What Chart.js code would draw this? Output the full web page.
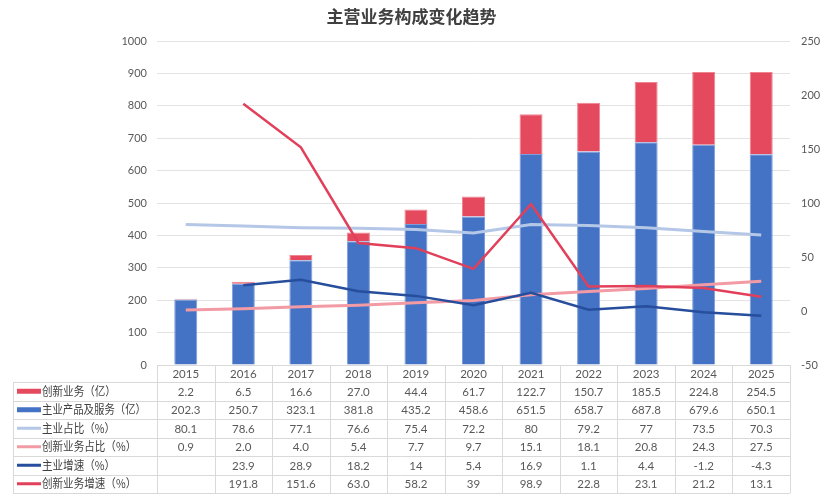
<!DOCTYPE html>
<html>
<head>
<meta charset="utf-8">
<script src="https://cdn.jsdelivr.net/npm/chart.js@4"></script>
<style>
  html, body { margin: 0; padding: 0; background: #fff; }
  #wrap { width: 823px; height: 500px; }
</style>
</head>
<body>
<div id="wrap"><canvas id="trendChart" width="823" height="500"></canvas></div>
<script>
// values as printed in the data table (blank = no value)
const years = ["2015", "2016", "2017", "2018", "2019", "2020", "2021", "2022", "2023", "2024", "2025"];
const innovRevenue = ["2.2", "6.5", "16.6", "27.0", "44.4", "61.7", "122.7", "150.7", "185.5", "224.8", "254.5"];
const mainRevenue  = ["202.3", "250.7", "323.1", "381.8", "435.2", "458.6", "651.5", "658.7", "687.8", "679.6", "650.1"];
const mainShare    = ["80.1", "78.6", "77.1", "76.6", "75.4", "72.2", "80", "79.2", "77", "73.5", "70.3"];
const innovShare   = ["0.9", "2.0", "4.0", "5.4", "7.7", "9.7", "15.1", "18.1", "20.8", "24.3", "27.5"];
const mainGrowth   = ["", "23.9", "28.9", "18.2", "14", "5.4", "16.9", "1.1", "4.4", "-1.2", "-4.3"];
const innovGrowth  = ["", "191.8", "151.6", "63.0", "58.2", "39", "98.9", "22.8", "23.1", "21.2", "13.1"];

const leftTicks  = [0, 100, 200, 300, 400, 500, 600, 700, 800, 900, 1000];
const rightTicks = [-50, 0, 50, 100, 150, 200, 250];

const toNum = s => (s === "" ? null : Number(s));

const CJK = '"Noto Sans CJK SC", sans-serif';
const NUM = 'Lato, "Noto Sans CJK SC", sans-serif';

// table rows, in the order shown under the chart
const tableRows = [
    { label: "创新业务（亿）",     cells: innovRevenue, color: "#E5495E", thick: 5 },
    { label: "主业产品及服务（亿）", cells: mainRevenue,  color: "#4472C4", thick: 5 },
    { label: "主业占比（%）",       cells: mainShare,    color: "#B4C7E7", thick: 3 },
    { label: "创新业务占比（%）",   cells: innovShare,   color: "#F29BA5", thick: 3 },
    { label: "主业增速（%）",       cells: mainGrowth,   color: "#264E9C", thick: 3 },
    { label: "创新业务增速（%）",   cells: innovGrowth,  color: "#E2405A", thick: 3 }
];

// title + data table drawn under the plot
const tablePlugin = {
    id: "dataTable",
    afterDraw(chart) {
        const ctx = chart.ctx;
        const area = chart.chartArea;
        const xs = chart.scales.x;
        const colW = (area.right - area.left) / years.length;

        ctx.save();
        // title
        ctx.fillStyle = "#404040";
        ctx.font = "bold 17px " + CJK;
        ctx.textAlign = "center";
        ctx.textBaseline = "middle";
        ctx.fillText("主营业务构成变化趋势", chart.width / 2, 17);

        const rowEdges = [area.bottom, 382, 400.5, 419, 437.5, 456, 474.5, 493];
        const tableLeft = 13;

        // grid
        ctx.strokeStyle = "#D9D9D9";
        ctx.lineWidth = 1;
        ctx.beginPath();
        rowEdges.forEach((y, i) => {
            const x0 = i === 0 ? area.left : tableLeft;
            ctx.moveTo(x0, Math.round(y) + 0.5);
            ctx.lineTo(area.right, Math.round(y) + 0.5);
        });
        for (let i = 0; i <= years.length; i++) {
            const x = Math.round(area.left + i * colW) + 0.5;
            ctx.moveTo(x, rowEdges[0]);
            ctx.lineTo(x, rowEdges[rowEdges.length - 1]);
        }
        ctx.moveTo(tableLeft + 0.5, rowEdges[1]);
        ctx.lineTo(tableLeft + 0.5, rowEdges[rowEdges.length - 1]);
        ctx.stroke();

        // year header
        ctx.fillStyle = "#595959";
        ctx.font = "11.5px " + NUM;
        years.forEach((yr, i) => {
            ctx.fillText(yr, xs.getPixelForValue(i), (rowEdges[0] + rowEdges[1]) / 2 + 1);
        });

        // rows
        tableRows.forEach((row, r) => {
            const yMid = (rowEdges[r + 1] + rowEdges[r + 2]) / 2;
            ctx.fillStyle = row.color;
            ctx.fillRect(17, yMid - row.thick / 2, 24, row.thick);

            ctx.fillStyle = "#404040";
            ctx.font = "12px " + CJK;
            ctx.textAlign = "left";
            const w = ctx.measureText(row.label).width;
            ctx.fillText(row.label, 42, yMid, Math.min(w * 0.88, 104));

            ctx.fillStyle = "#595959";
            ctx.font = "11.5px " + NUM;
            ctx.textAlign = "center";
            row.cells.forEach((v, i) => {
                if (v !== "") ctx.fillText(v, xs.getPixelForValue(i), yMid + 1);
            });
        });
        ctx.restore();
    }
};

const lineDefaults = { type: "line", yAxisID: "y1", pointRadius: 0, pointHoverRadius: 0, tension: 0, borderWidth: 2.5, fill: false };

new Chart(document.getElementById("trendChart"), {
    type: "bar",
    data: {
        labels: years,
        datasets: [
            {
                label: "主业产品及服务（亿）",
                data: mainRevenue.map(toNum),
                backgroundColor: "#4472C4",
                borderColor: "#7E9DDB",
                borderWidth: 1,
                stack: "rev",
                order: 10
            },
            {
                label: "创新业务（亿）",
                data: innovRevenue.map(toNum),
                backgroundColor: "#E5495E",
                borderColor: "#F08592",
                borderWidth: 1,
                stack: "rev",
                order: 11
            },
            Object.assign({}, lineDefaults, { label: "主业占比（%）", data: mainShare.map(toNum), borderColor: "#B4C7E7", borderWidth: 3, order: 4 }),
            Object.assign({}, lineDefaults, { label: "创新业务占比（%）", data: innovShare.map(toNum), borderColor: "#F29BA5", borderWidth: 3, order: 3 }),
            Object.assign({}, lineDefaults, { label: "主业增速（%）", data: mainGrowth.map(toNum), borderColor: "#264E9C", order: 2 }),
            Object.assign({}, lineDefaults, { label: "创新业务增速（%）", data: innovGrowth.map(toNum), borderColor: "#E2405A", order: 1 })
        ]
    },
    options: {
        responsive: false,
        animation: false,
        layout: { padding: { top: 41, bottom: 135, left: 0, right: 0 } },
        datasets: { bar: { barPercentage: 0.4, categoryPercentage: 1 } },
        plugins: {
            legend: { display: false },
            title: { display: false },
            tooltip: { enabled: false }
        },
        scales: {
            x: { display: false, stacked: true, offset: true },
            y: {
                position: "left",
                stacked: true,
                min: leftTicks[0],
                max: leftTicks[leftTicks.length - 1],
                afterBuildTicks: s => { s.ticks = leftTicks.map(v => ({ value: v })); },
                afterFit: s => { s.width = 157; },
                border: { display: false },
                grid: { color: "#E3E3E3", drawTicks: false },
                ticks: { color: "#595959", padding: 10, font: { family: NUM, size: 11 }, callback: v => String(v) }
            },
            y1: {
                position: "right",
                min: rightTicks[0],
                max: rightTicks[rightTicks.length - 1],
                afterBuildTicks: s => { s.ticks = rightTicks.map(v => ({ value: v })); },
                afterFit: s => { s.width = 33; },
                border: { display: false },
                grid: { display: false, drawTicks: false },
                ticks: { color: "#595959", padding: 11, font: { family: NUM, size: 11 }, callback: v => String(v) }
            }
        }
    },
    plugins: [tablePlugin]
});
</script>
</body>
</html>
